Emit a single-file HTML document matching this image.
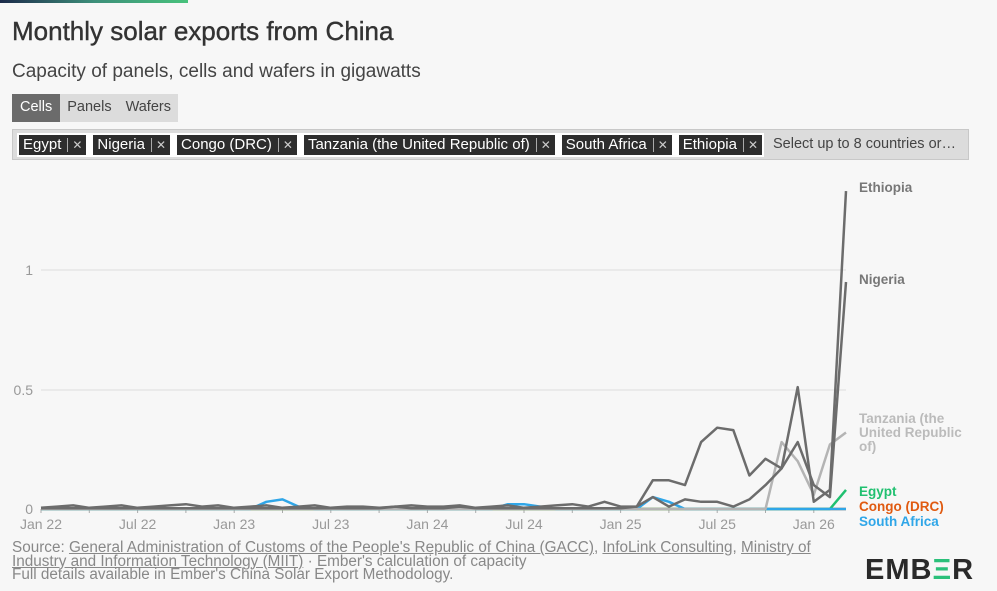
<!DOCTYPE html>
<html><head><meta charset="utf-8"><style>
body{margin:0;width:997px;height:591px;background:#f7f7f7;font-family:"Liberation Sans",sans-serif;overflow:hidden;position:relative;color:#333}
.bar{position:absolute;left:0;top:0;width:188px;height:3px;background:linear-gradient(90deg,#1c2a4a,#3d8f7a,#48c27c)}
h1{position:absolute;left:12px;top:16px;margin:0;font-size:26px;font-weight:normal;color:#333;-webkit-text-stroke:0.4px #333}
.sub{position:absolute;left:12px;top:61px;font-size:19px;color:#444}
.tabs{position:absolute;left:12px;top:94px;height:28px;background:#dcdcdc;display:flex;font-size:14.5px}
.tabs span{padding:5px 7px;color:#444}
.tabs span.on{background:#6b6b6b;color:#fff;padding:5px 8px}
.sel{position:absolute;left:12px;top:129px;width:957px;height:31px;background:#dcdcdc;border:1px solid #c8c8c8;box-sizing:border-box}
.chips{position:absolute;left:4px;top:3px;background:#fff;display:flex;gap:7px;padding:2px 2px}
.chip{background:#2d2d2d;color:#fff;font-size:15px;height:20px;line-height:20px;padding:0 4px;white-space:nowrap}
.chip i{font-style:normal;border-left:1px solid #aaa;margin-left:6px;padding-left:4px;color:#ccc;font-size:12px}
.ph{position:absolute;left:760px;top:6px;font-size:14.5px;color:#444}
.foot{position:absolute;left:12px;top:541px;font-size:15.3px;line-height:13.6px;color:#888}
.foot u{color:#888}
.logo{position:absolute;left:865px;top:554px;font-size:29px;font-weight:bold;color:#2a2a2a;letter-spacing:1px}
</style></head><body>
<div class="bar"></div>
<h1>Monthly solar exports from China</h1>
<div class="sub">Capacity of panels, cells and wafers in gigawatts</div>
<div class="tabs"><span class="on">Cells</span><span>Panels</span><span>Wafers</span></div>
<div class="sel"><div class="chips">
<span class="chip">Egypt<i>✕</i></span><span class="chip">Nigeria<i>✕</i></span><span class="chip">Congo (DRC)<i>✕</i></span><span class="chip">Tanzania (the United Republic of)<i>✕</i></span><span class="chip">South Africa<i>✕</i></span><span class="chip">Ethiopia<i>✕</i></span></div>
<span class="ph">Select up to 8 countries or…</span></div>
<svg id="c" width="997" height="591" style="position:absolute;left:0;top:0" font-family="Liberation Sans, sans-serif"></svg>
<div class="foot">Source: <u>General Administration of Customs of the People's Republic of China (GACC)</u>, <u>InfoLink Consulting</u>, <u>Ministry of<br>Industry and Information Technology (MIIT)</u> · Ember's calculation of capacity<br>Full details available in Ember's China Solar Export Methodology.</div>
<div class="logo">EMB<span style="color:#2bc07a">Ξ</span>R</div>
<script>
var X=function(m){return 41+m*16.1},Y=function(v){return 509-v*239};
var s='';
[[0,509],[0.5,390],[1,270]].forEach(function(g){s+='<line x1="41" x2="846" y1="'+g[1]+'" y2="'+g[1]+'" stroke="#ddd"/>';s+='<text x="33" y="'+(g[1]+5)+'" text-anchor="end" font-size="14" fill="#999">'+g[0]+'</text>'});
s+='<line x1="41" x2="846" y1="509" y2="509" stroke="#aaa"/>';
var lab=['Jan 22','Jul 22','Jan 23','Jul 23','Jan 24','Jul 24','Jan 25','Jul 25','Jan 26'];
for(var m=0;m<=50;m+=3){s+='<line x1="'+X(m)+'" x2="'+X(m)+'" y1="509" y2="513" stroke="#aaa"/>';}
lab.forEach(function(l,i){s+='<text x="'+X(i*6)+'" y="529" text-anchor="middle" font-size="14" fill="#999">'+l+'</text>'});
function line(d,c,w){var p=d.map(function(v,i){return X(i).toFixed(1)+','+Y(v).toFixed(1)}).join(' ');s+='<polyline points="'+p+'" fill="none" stroke="'+c+'" stroke-width="'+(w||2.5)+'" stroke-linejoin="round"/>';}
function arr(n,f){var a=[];for(var i=0;i<n;i++)a.push(f(i));return a;}
var z=arr(51,function(){return 0});
var tan=z.slice();tan[46]=0.28;tan[47]=0.2;tan[48]=0.06;tan[49]=0.27;tan[50]=0.32;
var egy=z.slice();egy[50]=0.08;
var con=z.slice();
var sa=z.slice();sa[14]=0.03;sa[15]=0.04;sa[16]=0.01;sa[29]=0.02;sa[30]=0.02;sa[31]=0.01;sa[38]=0.05;sa[39]=0.03;
var eth=arr(51,function(i){return 0.005+0.005*(i%3)});
eth[9]=0.02;eth[20]=0.01;eth[24]=0.01;eth[33]=0.02;eth[35]=0.03;eth[36]=0.01;
eth[37]=0.01;eth[38]=0.12;eth[39]=0.12;eth[40]=0.1;eth[41]=0.28;eth[42]=0.34;eth[43]=0.33;eth[44]=0.14;eth[45]=0.21;eth[46]=0.17;eth[47]=0.51;eth[48]=0.03;eth[49]=0.08;eth[50]=1.33;
var nig=arr(51,function(i){return 0.003});
nig[22]=0.01;nig[26]=0.01;nig[37]=0.01;nig[38]=0.05;nig[39]=0.01;nig[40]=0.04;nig[41]=0.03;nig[42]=0.03;nig[43]=0.01;nig[44]=0.04;nig[45]=0.1;nig[46]=0.17;nig[47]=0.28;nig[48]=0.1;nig[49]=0.05;nig[50]=0.95;
line(con,'#e05a10');line(egy,'#20c070');line(sa,'#2fa6e8');line(tan,'#b4b4b4');line(nig,'#6c6c6c');line(eth,'#6c6c6c');
var L=[['Ethiopia',192,'#777'],['Nigeria',284,'#777'],['Tanzania (the',423,'#bbb'],['United Republic',437,'#bbb'],['of)',451,'#bbb'],['Egypt',496,'#20c070'],['Congo (DRC)',511,'#e05a10'],['South Africa',526,'#2fa6e8']];
L.forEach(function(l){s+='<text x="859" y="'+l[1]+'" font-size="13.5" font-weight="bold" fill="'+l[2]+'">'+l[0]+'</text>'});
document.getElementById('c').innerHTML=s;
</script>
</body></html>
